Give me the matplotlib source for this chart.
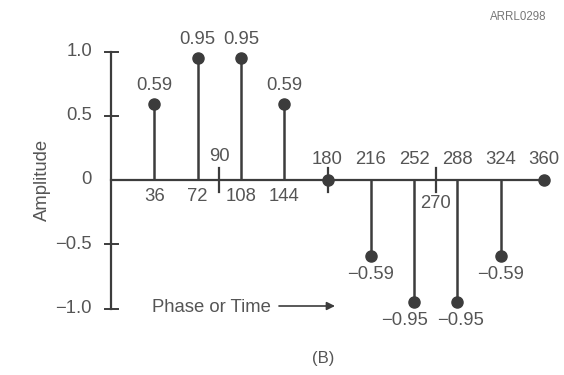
import numpy as np
import matplotlib.pyplot as plt

plt.rcParams['font.family'] = ['Liberation Sans', 'DejaVu Sans']

# sample phases (degrees) and amplitudes
phase = [36, 72, 108, 144, 180, 216, 252, 288, 324, 360]
amplitude = [0.59, 0.95, 0.95, 0.59, 0, -0.59, -0.95, -0.95, -0.59, 0]
value_labels = ['0.59', '0.95', '0.95', '0.59', '', '\u22120.59', '\u22120.95', '\u22120.95', '\u22120.59', '']
below_phase = [36, 72, 108, 144]
above_phase = [180, 216, 252, 288, 324, 360]
y_ticks = [1.0, 0.5, 0, -0.5, -1.0]
y_tick_labels = ['1.0', '0.5', '0', '\u22120.5', '\u22121.0']

INK = '#3c3c3c'
TXT = '#555555'
FS = 13.3

W, H = 564, 375
fig = plt.figure(figsize=(W / 100, H / 100), dpi=100)
ax = fig.add_axes([0, 0, 1, 1])
ax.set_axis_off()

# map pixels to data: x0=111px for 0 deg, 433px per 360 deg; y0=180px, 128.5px per unit
sx = 433 / 360
sy = 128.5
ax.set_xlim(-111 / sx, (W - 111) / sx)
ax.set_ylim(-(H - 180) / sy, 180 / sy)

# axes lines
ax.plot([0, 360], [0, 0], color=INK, lw=1.6, zorder=1)
ax.plot([0, 0], [-1.0, 1.0], color=INK, lw=1.6, zorder=1)

# y ticks
tx = 6.5 / sx
for v, lab in zip(y_ticks, y_tick_labels):
    if v != 0:
        ax.plot([-tx, tx], [v, v], color=INK, lw=1.4)
    ax.text(-19 / sx, v, lab, ha='right', va='center', fontsize=FS, color=TXT)

ax.text(-69 / sx, 0, 'Amplitude', rotation=90, ha='center', va='center',
        fontsize=FS, color=TXT)

# small crossing ticks at 90, 180, 270
th = 12 / sy
for p in [90, 180, 270]:
    ax.plot([p, p], [-th, th], color=INK, lw=1.6, zorder=2)

# stems and markers
ax.vlines(phase, 0, amplitude, color=INK, lw=1.8, zorder=2)
ax.plot(phase, amplitude, 'o', color=INK, ms=8, zorder=3)

# value labels (the two -0.95 labels are pushed apart a little)
for p, a, lab in zip(phase, amplitude, value_labels):
    if a > 0:
        ax.text(p, a + 0.08, lab, ha='center', va='bottom', fontsize=FS, color=TXT)
    elif a < 0:
        dx = 0
        if p == 252:
            dx = -10 / sx
        elif p == 288:
            dx = 3 / sx
        ax.text(p + dx, a - 0.08, lab, ha='center', va='top', fontsize=FS, color=TXT)

# phase labels
for p in below_phase:
    ax.text(p, -8 / sy, str(p), ha='center', va='top', fontsize=FS, color=TXT)
for p in above_phase:
    ax.text(p, 12 / sy, str(p), ha='center', va='bottom', fontsize=FS, color=TXT)
ax.text(90, 15 / sy, '90', ha='center', va='bottom', fontsize=FS, color=TXT)
ax.text(270, -15 / sy, '270', ha='center', va='top', fontsize=FS, color=TXT)

# arrow label
ax.text(41 / sx, -128 / sy, 'Phase or Time', ha='left', va='center',
        fontsize=FS, color=TXT)
ax.annotate('', xy=(224 / sx, -126 / sy), xytext=(168 / sx, -126 / sy),
            arrowprops=dict(arrowstyle='-|>', color=INK, lw=1.2,
                            mutation_scale=12, shrinkA=0, shrinkB=0))

ax.text(212 / sx, -178 / sy, '(B)', ha='center', va='center', fontsize=12, color=TXT)
ax.text(379 / sx, 163 / sy, 'ARRL0298', ha='left', va='center', fontsize=8.3, color='#777777')

fig.savefig('out.png', dpi=100)
